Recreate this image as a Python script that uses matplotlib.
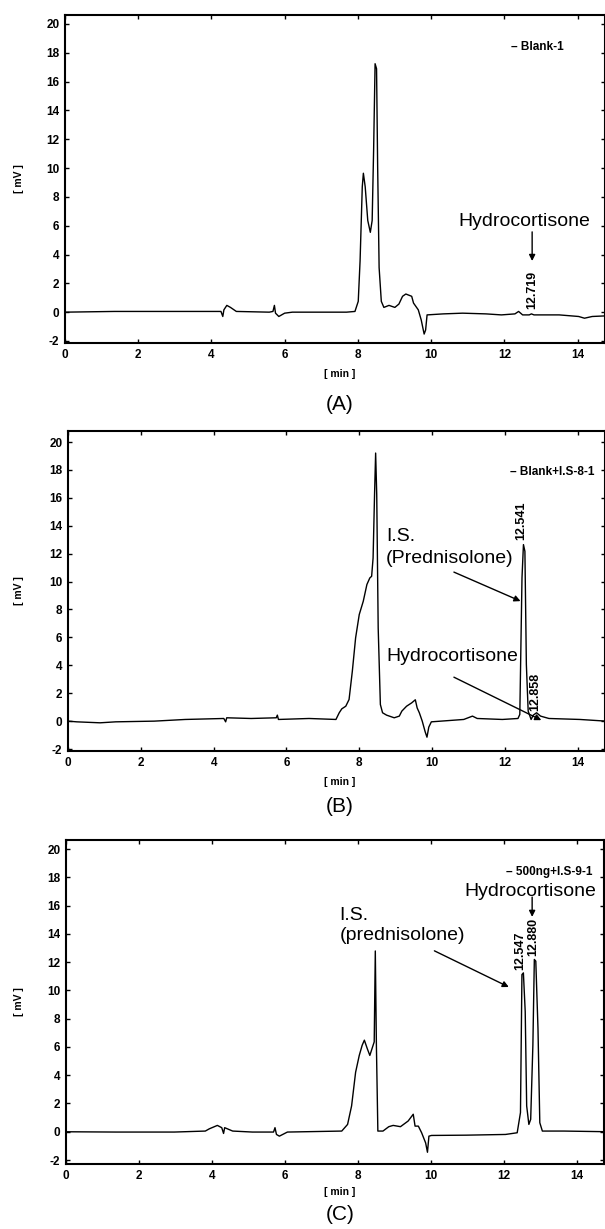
import matplotlib
matplotlib.use("Agg")
import matplotlib.pyplot as plt

# ---------------- data ----------------
time_a = [0.00, 1.35, 2.94, 4.26, 4.31, 4.34, 4.42, 4.52, 4.68, 5.58, 5.68, 5.72, 5.75, 5.84, 6.00, 6.21,
          7.69, 7.92, 8.01, 8.06, 8.12, 8.15, 8.20, 8.27, 8.34, 8.39, 8.43, 8.47, 8.51, 8.54, 8.58, 8.64,
          8.71, 8.85, 9.01, 9.12, 9.22, 9.31, 9.47, 9.52, 9.65, 9.73, 9.81, 9.85, 9.89, 10.33, 10.86,
          11.50, 11.92, 12.29, 12.39, 12.50, 12.68, 12.74, 12.81, 13.50, 14.03, 14.19, 14.40, 14.75]
signal_a = [0.00, 0.05, 0.05, 0.05, -0.30, 0.16, 0.47, 0.33, 0.05, 0.00, 0.05, 0.47, -0.07, -0.30, -0.07, 0.00,
            0.00, 0.05, 0.75, 3.56, 8.70, 9.64, 8.70, 6.36, 5.54, 6.36, 11.27, 17.24, 16.89, 10.10, 3.09, 0.75,
            0.33, 0.47, 0.33, 0.56, 1.10, 1.26, 1.10, 0.63, 0.16, -0.54, -1.52, -1.24, -0.19, -0.12, -0.07,
            -0.12, -0.19, -0.12, 0.05, -0.19, -0.19, -0.12, -0.19, -0.19, -0.30, -0.42, -0.30, -0.26]

time_b = [0.00, 0.24, 0.88, 1.31, 2.37, 3.22, 4.28, 4.33, 4.36, 5.03, 5.72, 5.75, 5.78, 6.62, 7.36, 7.45,
          7.52, 7.63, 7.72, 7.81, 7.90, 8.00, 8.11, 8.21, 8.29, 8.34, 8.38, 8.42, 8.45, 8.48, 8.52, 8.58,
          8.64, 8.75, 8.96, 9.10, 9.17, 9.30, 9.44, 9.54, 9.59, 9.65, 9.73, 9.81, 9.86, 9.91, 9.98, 10.87,
          11.11, 11.24, 11.93, 12.36, 12.41, 12.47, 12.51, 12.55, 12.59, 12.64, 12.72, 12.78, 12.87, 12.98,
          13.21, 14.06, 14.78]
signal_b = [0.00, -0.05, -0.12, -0.05, 0.00, 0.12, 0.19, -0.05, 0.24, 0.19, 0.24, 0.43, 0.12, 0.19, 0.12, 0.60,
            0.88, 1.07, 1.55, 3.58, 5.97, 7.64, 8.59, 9.79, 10.26, 10.38, 11.69, 16.23, 19.21, 16.23, 6.68, 1.19,
            0.60, 0.43, 0.24, 0.36, 0.72, 1.07, 1.31, 1.53, 0.95, 0.60, 0.00, -0.76, -1.15, -0.43, -0.05, 0.12,
            0.36, 0.19, 0.12, 0.19, 0.48, 10.26, 12.65, 12.17, 4.06, 0.72, 0.12, 0.43, 0.60, 0.36,
            0.19, 0.12, 0.00]

time_c = [0.00, 1.37, 2.97, 3.82, 3.93, 4.15, 4.27, 4.32, 4.35, 4.57, 5.11, 5.69, 5.73, 5.77, 5.85, 6.07,
          7.56, 7.72, 7.83, 7.94, 8.04, 8.12, 8.18, 8.26, 8.33, 8.42, 8.45, 8.48, 8.51, 8.55, 8.69, 8.85,
          8.97, 9.17, 9.38, 9.52, 9.57, 9.66, 9.75, 9.86, 9.91, 9.95, 10.02, 10.98, 12.05, 12.37, 12.46,
          12.50, 12.54, 12.59, 12.63, 12.69, 12.74, 12.80, 12.84, 12.88, 12.94, 12.99, 13.06, 13.65, 14.91]
signal_c = [0.00, -0.02, -0.02, 0.05, 0.21, 0.45, 0.29, -0.12, 0.29, 0.05, -0.02, -0.02, 0.29, -0.19, -0.31, -0.02,
            0.05, 0.52, 1.83, 4.21, 5.40, 6.12, 6.48, 5.88, 5.40, 6.12, 6.36, 12.79, 6.12, 0.05, 0.05, 0.36,
            0.45, 0.36, 0.76, 1.24, 0.40, 0.40, -0.07, -0.79, -1.45, -0.31, -0.26, -0.24, -0.19, -0.07, 1.36,
            11.12, 11.24, 8.50, 1.83, 0.52, 0.88, 6.12, 12.19, 12.07, 7.31, 0.64, 0.05, 0.05, 0.00]

x_ticks = [0, 2, 4, 6, 8, 10, 12, 14]
y_ticks = [-2, 0, 2, 4, 6, 8, 10, 12, 14, 16, 18, 20]
legend_labels = ["– Blank-1", "– Blank+I.S-8-1", "– 500ng+I.S-9-1"]
panel_labels = ["(A)", "(B)", "(C)"]

# ---------------- figure ----------------
W, H = 605, 1229
plt.rcParams['font.family'] = ['Liberation Sans', 'DejaVu Sans']
plt.rcParams['axes.unicode_minus'] = False
fig = plt.figure(figsize=(W / 100, H / 100), dpi=100)

# axes boxes in pixels: left, right, top, bottom
boxes = [(65, 605, 15, 343), (68, 605, 431, 751), (66, 604, 840, 1164)]
ylims = [(-2.14, 20.62), (-2.14, 20.79), (-2.28, 20.64)]
traces = [(time_a, signal_a), (time_b, signal_b), (time_c, signal_c)]
legend_pos = [(564, 47), (595, 472), (593, 872)]
xlabel_y = [374, 782, 1192]
panel_y = [404, 806, 1215]

axes = []
for i, ((l, r, t, b), yl, (tx, sy)) in enumerate(zip(boxes, ylims, traces)):
    ax = fig.add_axes([l / W, 1 - b / H, (r - l) / W, (b - t) / H])
    ax.plot(tx, sy, color='black', lw=1.0)
    ax.set_xlim(0, 14.75)
    ax.set_ylim(*yl)
    ax.set_xticks(x_ticks)
    ax.set_yticks(y_ticks)
    ax.tick_params(direction='in', length=3, width=1, top=True, right=True,
                   labelsize=8.5, pad=4)
    for lab in ax.get_xticklabels() + ax.get_yticklabels():
        lab.set_fontweight('bold')
    for sp in ax.spines.values():
        sp.set_linewidth(1.5)
    lx, ly = legend_pos[i]
    fig.text(lx / W, 1 - ly / H, legend_labels[i], ha='right', va='center',
             fontsize=8.5, fontweight='bold')
    fig.text(340 / W, 1 - xlabel_y[i] / H, "[ min ]", ha='center', va='center',
             fontsize=7.5, fontweight='bold')
    fig.text(19 / W, 1 - ((t + b) / 2) / H, "[ mV ]", ha='center', va='center',
             rotation=90, fontsize=7.5, fontweight='bold')
    fig.text(340 / W, 1 - panel_y[i] / H, panel_labels[i], ha='center', va='center',
             fontsize=15)
    axes.append(ax)

arrow = dict(arrowstyle='-|>', color='black', lw=1.0, mutation_scale=9, shrinkA=0, shrinkB=0)
ann_fs = 14
rt_fs = 9

# Panel A
ax = axes[0]
ax.text(12.54, 6.26, "Hydrocortisone", ha='center', va='center', fontsize=ann_fs)
ax.annotate("", xy=(12.76, 3.55), xytext=(12.76, 5.57), arrowprops=arrow)
ax.text(12.76, 0.25, "12.719", rotation=90, ha='center', va='bottom', fontsize=rt_fs, fontweight='bold')

# Panel B
ax = axes[1]
ax.text(8.74, 13.26, "I.S.", ha='left', va='center', fontsize=ann_fs)
ax.text(8.74, 11.68, "(Prednisolone)", ha='left', va='center', fontsize=ann_fs)
ax.annotate("", xy=(12.43, 8.6), xytext=(10.6, 10.68), arrowprops=arrow)
ax.text(8.74, 4.66, "Hydrocortisone", ha='left', va='center', fontsize=ann_fs)
ax.annotate("", xy=(13.0, 0.07), xytext=(10.6, 3.15), arrowprops=arrow)
ax.text(12.46, 12.95, "12.541", rotation=90, ha='center', va='bottom', fontsize=rt_fs, fontweight='bold')
ax.text(12.84, 0.7, "12.858", rotation=90, ha='center', va='bottom', fontsize=rt_fs, fontweight='bold')

# Panel C
ax = axes[2]
ax.text(7.5, 15.33, "I.S.", ha='left', va='center', fontsize=ann_fs)
ax.text(7.5, 13.85, "(prednisolone)", ha='left', va='center', fontsize=ann_fs)
ax.annotate("", xy=(12.14, 10.24), xytext=(10.1, 12.8), arrowprops=arrow)
ax.text(12.74, 17.0, "Hydrocortisone", ha='center', va='center', fontsize=ann_fs)
ax.annotate("", xy=(12.78, 15.2), xytext=(12.78, 16.6), arrowprops=arrow)
ax.text(12.46, 11.45, "12.547", rotation=90, ha='center', va='bottom', fontsize=rt_fs, fontweight='bold')
ax.text(12.80, 12.45, "12.880", rotation=90, ha='center', va='bottom', fontsize=rt_fs, fontweight='bold')

fig.savefig("out.png", dpi=100)
